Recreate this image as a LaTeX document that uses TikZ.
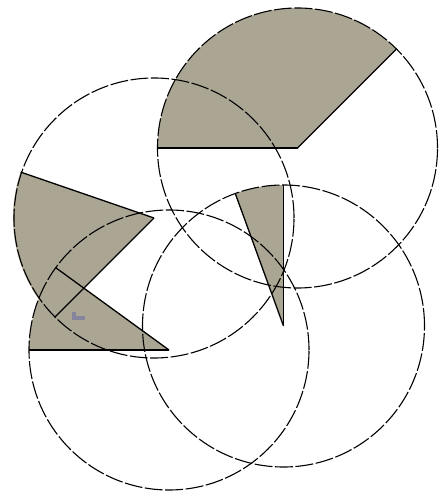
\documentclass[tikz,border=0pt]{standalone}
\definecolor{fillc}{RGB}{170,166,147}
\definecolor{markc}{RGB}{132,132,156}
\begin{document}
\begin{tikzpicture}[x=1pt,y=1pt,
  circ/.style={draw=black, line width=1.1pt, dash pattern=on 18pt off 2.5pt},
  rad/.style={draw=black, line width=1.3pt},
  sect/.style={fill=fillc},
  blot/.style={draw=markc, line width=3.2pt}]
\useasboundingbox (0,0) rectangle (441,493);
\coordinate (A) at (297.5,345);
\coordinate (B) at (154,275);
\coordinate (C) at (169,143);
\coordinate (D) at (283.5,167);
% shaded sectors
\fill[sect] (A) -- ++(180:140) arc[start angle=180, end angle=45, radius=140] -- cycle;
\fill[sect] (B) -- ++(161:141) arc[start angle=161, end angle=225, radius=141] -- cycle;
\fill[sect] (C) -- ++(144:140) arc[start angle=144, end angle=180, radius=140] -- cycle;
\fill[sect] (D) -- ++(90:141) arc[start angle=90, end angle=110, radius=141] -- cycle;
% circles
\draw[circ] (A) circle[radius=140];
\draw[circ] (B) circle[radius=140];
\draw[circ] (C) circle[radius=140];
\draw[circ] (D) circle[radius=141];
% radius lines
\draw[rad] (A) -- ++(180:140);
\draw[rad] (A) -- ++(45:140);
\draw[rad] (B) -- ++(161:141);
\draw[rad] (B) -- ++(225:140);
\draw[rad] (C) -- ++(180:140);
\draw[rad] (C) -- ++(144:140);
\draw[rad] (D) -- ++(90:141);
\draw[rad] (D) -- ++(110:141);
% small grey mark
\coordinate (m1) at (74,181);
\coordinate (m2) at (74,175);
\coordinate (m3) at (85,175);
\draw[blot] (m1) -- (m2) -- (m3);
\end{tikzpicture}
\end{document}
